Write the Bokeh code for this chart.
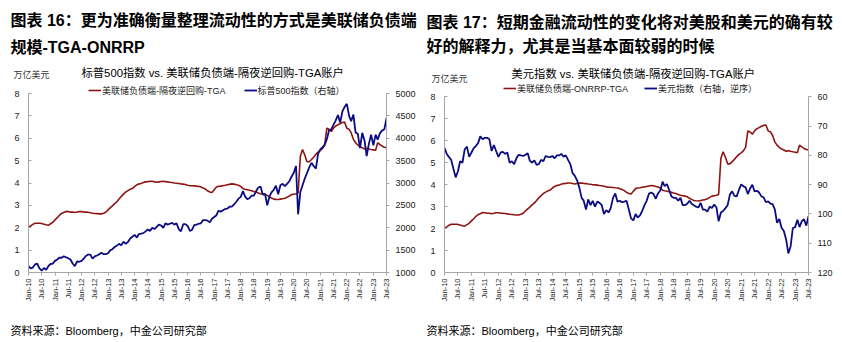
import pandas as pd
from math import pi
from bokeh.plotting import figure
from bokeh.models import (Range1d, LinearAxis, FixedTicker, Label, Legend, LegendItem)
from bokeh.layouts import row, column
from bokeh.embed import file_html
from bokeh.resources import INLINE

# ---------------- data (monthly, Jan-2010 .. Jul-2023) ----------------
months = pd.date_range("2010-01-01", "2023-07-01", freq="MS")

# Fed liabilities - ONRRP - TGA, trillion USD
liquidity = [
    2.02, 2.08, 2.15, 2.20, 2.20, 2.20, 2.19, 2.16, 2.13, 2.11, 2.18, 2.24,
    2.35, 2.45, 2.55, 2.64, 2.68, 2.73, 2.72, 2.70, 2.70, 2.68, 2.70, 2.72,
    2.72, 2.70, 2.70, 2.69, 2.67, 2.65, 2.64, 2.63, 2.62, 2.62, 2.65, 2.70,
    2.80, 2.90, 2.98, 3.08, 3.16, 3.28, 3.40, 3.50, 3.60, 3.66, 3.72, 3.75,
    3.85, 3.92, 3.96, 3.98, 4.02, 4.05, 4.06, 4.08, 4.08, 4.05, 4.03, 4.05,
    4.07, 4.08, 4.06, 4.05, 4.03, 4.02, 4.00, 3.99, 3.98, 3.96, 3.95, 3.93,
    3.90, 3.88, 3.88, 3.87, 3.86, 3.85, 3.82, 3.78, 3.73, 3.65, 3.60, 3.58,
    3.70, 3.82, 3.85, 3.86, 3.88, 3.90, 3.92, 3.94, 3.96, 3.95, 3.92, 3.90,
    3.85, 3.75, 3.72, 3.70, 3.68, 3.65, 3.62, 3.60, 3.55, 3.52, 3.50, 3.48,
    3.45, 3.38, 3.33, 3.28, 3.27, 3.26, 3.28, 3.30, 3.32, 3.36, 3.42, 3.48,
    3.50, 3.52, 3.55, 5.20, 5.50, 5.25, 4.95, 4.95, 5.05, 5.15, 5.28, 5.38,
    5.45, 5.55, 5.70, 6.45, 6.40, 6.30, 6.45, 6.55, 6.60, 6.66, 6.70, 6.72,
    6.45, 6.40, 6.25, 5.95, 5.80, 5.70, 5.62, 5.58, 5.52, 5.55, 5.52, 5.50,
    5.48, 5.46, 5.80, 5.72, 5.65, 5.60, 5.58,
]

# S&P 500 index
spx = [
    1140, 1090, 1110, 1180, 1200, 1090, 1040, 1100, 1060, 1140, 1190, 1200,
    1260, 1290, 1330, 1330, 1360, 1340, 1320, 1290, 1200, 1140, 1250, 1240,
    1260, 1310, 1370, 1400, 1400, 1310, 1360, 1380, 1410, 1440, 1410, 1410,
    1430, 1500, 1520, 1570, 1600, 1640, 1610, 1690, 1640, 1680, 1760, 1800,
    1840, 1780, 1860, 1870, 1880, 1920, 1960, 1930, 2000, 1970, 2020, 2070,
    2050, 2000, 2100, 2070, 2090, 2110, 2070, 2100, 1970, 1920, 2080, 2080,
    2040, 1930, 1950, 2060, 2070, 2090, 2100, 2170, 2170, 2160, 2120, 2200,
    2240, 2280, 2380, 2360, 2390, 2420, 2430, 2470, 2470, 2520, 2580, 2650,
    2690, 2820, 2700, 2640, 2660, 2720, 2720, 2820, 2900, 2920, 2740, 2760,
    2500, 2700, 2790, 2850, 2940, 2750, 2950, 2980, 2930, 2980, 3040, 3140,
    3230, 3380, 2300, 2800, 2950, 3100, 3220, 3350, 3450, 3380, 3320, 3650,
    3750, 3800, 3850, 3980, 4180, 4200, 4300, 4400, 4520, 4350, 4600, 4700,
    4770, 4500, 4380, 4530, 4130, 4100, 3780, 4120, 3950, 3600, 3880, 4080,
    3840, 4080, 3970, 4110, 4170, 4200, 4450,
]

# US dollar index
dxy = [
    77.5, 79.5, 80.5, 81.5, 84.5, 87.5, 85.5, 82.0, 82.5, 78.0, 77.0, 80.5,
    79.0, 77.5, 76.8, 75.8, 73.5, 74.5, 74.0, 74.0, 74.5, 78.5, 76.5, 78.5,
    80.5, 79.0, 78.8, 79.5, 79.0, 82.5, 82.0, 83.0, 81.0, 79.8, 80.0, 80.2,
    79.8, 79.3, 81.8, 82.5, 81.7, 83.2, 83.0, 81.5, 82.0, 80.2, 80.5, 80.6,
    80.2, 81.0, 80.0, 80.0, 79.5, 80.4, 80.0, 81.5, 83.0, 86.0, 87.0, 88.5,
    91.0, 94.5, 95.5, 98.5, 95.0, 97.0, 95.5, 97.5, 95.8, 96.2, 97.0, 100.0,
    98.7, 99.5, 98.0, 94.5, 93.0, 95.8, 95.5, 96.0, 95.8, 95.5, 98.5, 101.5,
    102.2, 100.0, 101.2, 100.5, 99.0, 97.0, 95.5, 93.0, 92.7, 93.2, 94.8, 93.0,
    92.0, 89.0, 90.5, 89.8, 91.8, 94.0, 94.5, 94.5, 95.5, 94.5, 97.0, 97.0,
    96.5, 95.5, 96.5, 97.0, 97.5, 97.8, 96.2, 98.5, 98.5, 99.2, 97.5, 98.0,
    96.8, 97.8, 102.5, 99.5, 99.0, 98.0, 97.0, 93.3, 92.3, 93.8, 94.0, 91.8,
    89.9, 90.6, 90.9, 93.2, 91.3, 90.0, 92.3, 92.1, 92.7, 94.0, 94.3, 96.0,
    95.7, 96.5, 96.6, 98.4, 103.0, 101.7, 104.7, 105.8, 108.7, 113.5, 111.0, 104.8,
    104.5, 102.0, 104.5, 102.5, 101.8, 104.0, 100.8,
]

tick_dates = pd.date_range("2010-01-01", "2023-07-01", freq="6MS")
tick_labels = [
    "Jan-10", "Jul-10", "Jan-11", "Jul-11", "Jan-12", "Jul-12", "Jan-13", "Jul-13",
    "Jan-14", "Jul-14", "Jan-15", "Jul-15", "Jan-16", "Jul-16", "Jan-17", "Jul-17",
    "Jan-18", "Jul-18", "Jan-19", "Jul-19", "Jan-20", "Jul-20", "Jan-21", "Jul-21",
    "Jan-22", "Jul-22", "Jan-23", "Jul-23",
]
left_ticks = [0, 1, 2, 3, 4, 5, 6, 7, 8]
spx_ticks = [1000, 1500, 2000, 2500, 3000, 3500, 4000, 4500, 5000]
dxy_ticks = [60, 70, 80, 90, 100, 110, 120]

assert len(liquidity) == len(months) == len(spx) == len(dxy)

RED = "#8E1414"
BLUE = "#0B0B82"
AXIS = "#A6A6A6"
LAT = "Liberation Sans, Noto Sans CJK SC"

W = 842
HEAD_H = 84     # header strip (titles)
MID_H = 228     # chart strip
FOOT_H = 30     # source strip

tick_ms = [int(d.timestamp() * 1000) for d in tick_dates]
overrides = {t: lab for t, lab in zip(tick_ms, tick_labels)}


def blank_fig(width, height, top):
    f = figure(width=width, height=height, output_backend="svg", toolbar_location=None,
               x_range=Range1d(0, width), y_range=Range1d(top + height, top),
               x_axis_location=None, y_axis_location=None,
               min_border=0)
    f.xgrid.grid_line_color = None
    f.ygrid.grid_line_color = None
    f.outline_line_color = None
    return f


def add_label(f, text, x, y, size, bold=False, color="#000000"):
    f.add_layout(Label(x=x, y=y, text=text, text_font=LAT, text_font_size=size,
                       text_font_style="bold" if bold else "normal",
                       text_color=color, text_baseline="middle", text_align="left"))


def style_axis(ax, tick_in=0, tick_out=3, size="9px", standoff=6):
    ax.axis_line_color = AXIS
    ax.major_tick_line_color = AXIS
    ax.minor_tick_line_color = None
    ax.major_tick_in = tick_in
    ax.major_tick_out = tick_out
    ax.major_label_text_font = LAT
    ax.major_label_text_font_size = size
    ax.major_label_text_color = "#1a1a1a"
    ax.major_label_standoff = standoff


def make_panel(border_left, border_right, border_bottom, y_top):
    p = figure(width=W // 2, height=MID_H, x_axis_type="datetime",
               output_backend="svg", toolbar_location=None,
               x_range=Range1d(tick_ms[0], tick_ms[-1]),
               y_range=Range1d(0, y_top),
               min_border_left=border_left, min_border_right=border_right,
               min_border_top=0, min_border_bottom=border_bottom)
    p.xgrid.grid_line_color = None
    p.ygrid.grid_line_color = None
    p.outline_line_color = None
    xa = p.xaxis[0]
    xa.ticker = FixedTicker(ticks=tick_ms)
    xa.major_label_overrides = overrides
    xa.major_label_orientation = pi / 2
    style_axis(xa, 0, 3, "7.5px", 3)
    ya = p.yaxis[0]
    ya.ticker = FixedTicker(ticks=left_ticks)
    ya.bounds = (0, 8)
    style_axis(ya, 3, 0, "9px", 9)
    return p


def add_legend(p, items, loc, spacing):
    leg = Legend(items=items, orientation="horizontal", location=loc,
                 label_text_font=LAT, label_text_font_size="9px",
                 label_text_color="#1a1a1a",
                 glyph_width=13, glyph_height=10, label_height=10, label_standoff=1,
                 spacing=spacing, padding=0, margin=0,
                 border_line_alpha=0, background_fill_alpha=0)
    p.add_layout(leg, "center")


# ---------------- header (titles) ----------------
head = blank_fig(W, HEAD_H, 0)
add_label(head, "图表 16：更为准确衡量整理流动性的方式是美联储负债端", 10, 20, "16px", True)
add_label(head, "规模-TGA-ONRRP", 10, 46.5, "16px", True)
add_label(head, "万亿美元", 13, 74, "9px", color="#333333")
add_label(head, "标普500指数 vs. 美联储负债端-隔夜逆回购-TGA账户", 81, 72, "11.3px")
add_label(head, "图表 17：短期金融流动性的变化将对美股和美元的确有较", 426, 21.5, "16px", True)
add_label(head, "好的解释力，尤其是当基本面较弱的时候", 426, 46, "16px", True)
add_label(head, "万亿美元", 431, 78.5, "9px", color="#333333")
add_label(head, "美元指数 vs. 美联储负债端-隔夜逆回购-TGA账户", 511, 73, "11.3px")

# ---------------- left panel ----------------
# frame top sits at page y=84; value 8 at page y=93, 0 at y=272
p1 = make_panel(28, 35, MID_H - (272 - HEAD_H), 8 + 9 / 22.375)
p1.extra_y_ranges = {"spx": Range1d(1000, 5000 + 9 * 4000 / 179)}
ax_r1 = LinearAxis(y_range_name="spx", ticker=FixedTicker(ticks=spx_ticks), bounds=(1000, 5000))
style_axis(ax_r1, 0, 3, "9px", 6)
p1.add_layout(ax_r1, "right")
r1 = p1.line(months, liquidity, color=RED, line_width=1.6)
b1 = p1.line(months, spx, color=BLUE, line_width=1.8, y_range_name="spx")
add_legend(p1, [LegendItem(label="美联储负债端-隔夜逆回购-TGA", renderers=[r1]),
                LegendItem(label="标普500指数（右轴）", renderers=[b1])], (60, 175.5), 18)

# ---------------- right panel ----------------
# value 8 at page y=96.5, 0 at y=274
p2 = make_panel(23, 34, MID_H - (274 - HEAD_H), 8 + 12.5 * 8 / 177.5)
p2.extra_y_ranges = {"dxy": Range1d(120, 60 - 12.5 * 60 / 177.5)}
ax_r2 = LinearAxis(y_range_name="dxy", ticker=FixedTicker(ticks=dxy_ticks), bounds=(60, 120))
style_axis(ax_r2, 0, 3, "9px", 6)
p2.add_layout(ax_r2, "right")
r2 = p2.line(months, liquidity, color=RED, line_width=1.6)
b2 = p2.line(months, dxy, color=BLUE, line_width=1.8, y_range_name="dxy")
add_legend(p2, [LegendItem(label="美联储负债端-ONRRP-TGA", renderers=[r2]),
                LegendItem(label="美元指数（右轴，逆序）", renderers=[b2])], (59, 177.5), 16)

# ---------------- footer (source) ----------------
foot = blank_fig(W, FOOT_H, HEAD_H + MID_H)
add_label(foot, "资料来源：Bloomberg，中金公司研究部", 10, 330, "11px")
add_label(foot, "资料来源：Bloomberg，中金公司研究部", 426, 330, "11px")

layout = column(head, row(p1, p2, spacing=0), foot, spacing=0)
open("out.html", "w").write(file_html(layout, INLINE))
